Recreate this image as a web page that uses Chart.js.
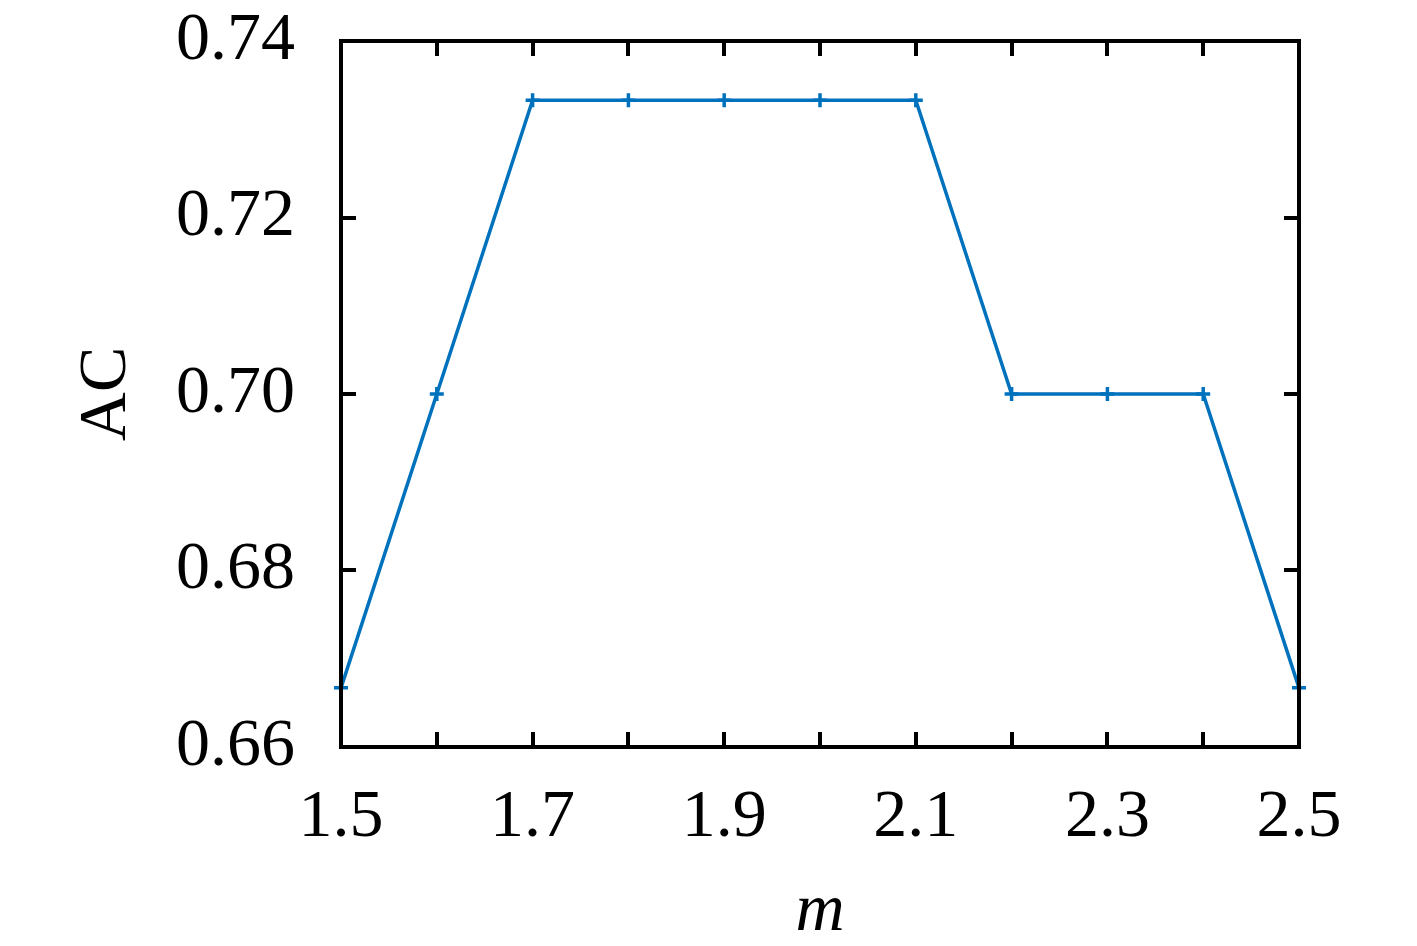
<!DOCTYPE html>
<html>
<head>
<meta charset="utf-8">
<script src="https://cdn.jsdelivr.net/npm/chart.js@4"></script>
<style>
	html, body { margin: 0; padding: 0; background: #fff; }
	#wrap { width: 1417px; height: 946px; }
</style>
</head>
<body>
<div id="wrap"><canvas id="myChart" width="1417" height="946"></canvas></div>
<script>
let mValues = [1.5, 1.6, 1.7, 1.8, 1.9, 2.0, 2.1, 2.2, 2.3, 2.4, 2.5];
let acValues = [0.6667, 0.7, 0.7333, 0.7333, 0.7333, 0.7333, 0.7333, 0.7, 0.7, 0.7, 0.6667];
let xTickLabels = ['1.5', '1.7', '1.9', '2.1', '2.3', '2.5'];
let yTickLabels = ['0.66', '0.68', '0.70', '0.72', '0.74'];

let fontFamily = "'Liberation Serif', 'DejaVu Serif', serif";

// frame + inward ticks on all four sides
let frameTicks = {
	id: 'frameTicks',
	afterDraw(chart) {
		let ctx = chart.ctx;
		let a = chart.chartArea;
		let xs = chart.scales.x;
		let ys = chart.scales.y;
		let len = 15;
		ctx.save();
		ctx.strokeStyle = '#000';
		ctx.lineWidth = 4;
		ctx.beginPath();
		xs.ticks.forEach(t => {
			let px = Math.round(xs.getPixelForValue(t.value));
			ctx.moveTo(px, a.bottom);
			ctx.lineTo(px, a.bottom - len);
			ctx.moveTo(px, a.top);
			ctx.lineTo(px, a.top + len);
		});
		ys.ticks.forEach(t => {
			let py = Math.round(ys.getPixelForValue(t.value));
			ctx.moveTo(a.left, py);
			ctx.lineTo(a.left + len, py);
			ctx.moveTo(a.right, py);
			ctx.lineTo(a.right - len, py);
		});
		ctx.stroke();
		ctx.lineJoin = 'miter';
		ctx.strokeRect(a.left, a.top, a.right - a.left, a.bottom - a.top);
		ctx.restore();
	}
};

function createLineChart(elID) {
	let ctx = document.getElementById(elID).getContext('2d');
	let points = mValues.map((m, i) => ({ x: m, y: acValues[i] }));
	return new Chart(ctx, {
		type: 'line',
		data: {
			datasets: [{
				label: 'AC',
				data: points,
				borderColor: '#0072BD',
				borderWidth: 3.5,
				pointStyle: 'cross',
				pointRadius: 7,
				pointBorderWidth: 3.5,
				pointBorderColor: '#0072BD',
				pointBackgroundColor: '#0072BD',
				fill: false,
				lineTension: 0,
				clip: false
			}]
		},
		options: {
			responsive: false,
			animation: false,
			events: [],
			layout: { padding: { left: 0, top: 41, right: 118, bottom: 0 } },
			plugins: { legend: { display: false }, tooltip: { enabled: false } },
			scales: {
				x: {
					type: 'linear',
					min: 1.5,
					max: 2.5,
					grid: { display: false, drawTicks: false },
					border: { display: false },
					afterFit(s) { s.height = 199; s.paddingLeft = 0; s.paddingRight = 0; },
					ticks: {
						stepSize: 0.1,
						autoSkip: false,
						maxRotation: 0,
						padding: 30,
						color: '#000',
						font: { family: fontFamily, size: 68 },
						callback: (v, i) => (i % 2 === 0 ? xTickLabels[i / 2] : '')
					},
					title: {
						display: true,
						text: 'm',
						color: '#000',
						font: { family: fontFamily, size: 68, style: 'italic', lineHeight: 1 },
						padding: { top: 0, bottom: 0 }
					}
				},
				y: {
					min: 0.66,
					max: 0.74,
					grid: { display: false, drawTicks: false },
					border: { display: false },
					afterFit(s) { s.width = 341; s.paddingTop = 0; s.paddingBottom = 0; },
					ticks: {
						stepSize: 0.02,
						padding: 46,
						color: '#000',
						font: { family: fontFamily, size: 68 },
						callback: (v, i) => yTickLabels[i]
					},
					title: {
						display: true,
						text: 'AC',
						color: '#000',
						font: { family: fontFamily, size: 68, lineHeight: 1 },
						padding: { top: 73, bottom: 0 }
					}
				}
			}
		},
		plugins: [frameTicks]
	});
}

createLineChart('myChart');
</script>
</body>
</html>
